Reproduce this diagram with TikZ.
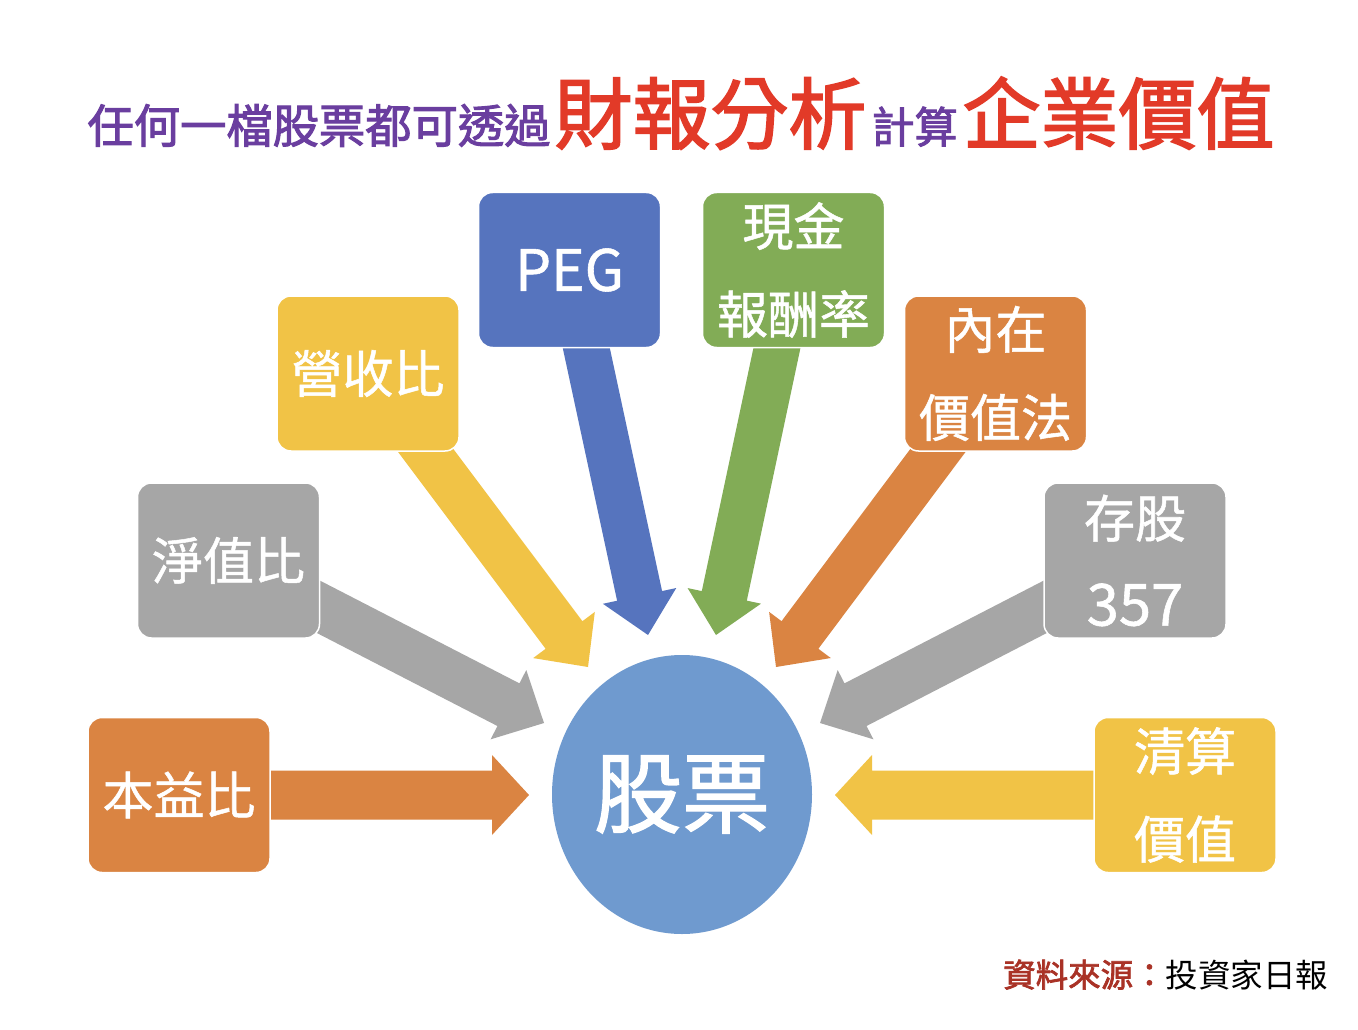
\documentclass[tikz,border=0pt]{standalone}
\usepackage{fontspec}
\setmainfont{Noto Sans CJK TC}
\newfontfamily\titlefont{Noto Sans CJK TC}[FakeBold=2.2]
\newfontfamily\boxfont{Noto Sans CJK TC}[FakeBold=1]
\newfontfamily\bigfont{Noto Sans CJK TC}[FakeBold=1.5]
\usetikzlibrary{calc,shapes.geometric}
\pgfdeclarelayer{back}
\pgfdeclarelayer{bg}
\pgfsetlayers{back,bg,main}
\definecolor{cOrange}{HTML}{DA8442}
\definecolor{cGray}{HTML}{A6A6A6}
\definecolor{cYellow}{HTML}{F1C346}
\definecolor{cBlue}{HTML}{5674BE}
\definecolor{cGreen}{HTML}{82AC56}
\definecolor{cCircle}{HTML}{6F9ACF}
\definecolor{cPurple}{HTML}{6A3E9F}
\definecolor{cRed}{HTML}{E23A28}
\definecolor{cDarkRed}{HTML}{A93226}
% color, tail, tip, half shaft, half head, head length
\newcommand\blockarrow[6]{%
  \coordinate (ba) at ($(#3)!#6!(#2)$);
  \fill[#1] ($(#2)!#4!90:(#3)$) -- ($(ba)!#4!90:(#3)$) -- ($(ba)!#5!90:(#3)$) -- (#3)
     -- ($(ba)!#5!-90:(#3)$) -- ($(ba)!#4!-90:(#3)$) -- ($(#2)!#4!-90:(#3)$) -- cycle;
}
\begin{document}
\begin{tikzpicture}[x=1pt,y=-1pt,
  boxnode/.style={draw=white, line width=1.5pt, rounded corners=14pt,
    minimum width=182pt, minimum height=155pt, inner sep=0pt, text=white,
    font=\boxfont\fontsize{51}{88}\selectfont, align=center}]
\useasboundingbox (0,0) rectangle (1358,1030);
\begin{pgfonlayer}{back}
  \fill[white] (0,0) rectangle (1358,1030);
\end{pgfonlayer}

% title
\node[anchor=base, inner sep=0pt, font=\titlefont] (title) at (681,143) {%
  {\color{cPurple}\fontsize{46.3}{46}\selectfont 任何一檔股票都可透過}\hspace{4pt}%
  {\color{cRed}\fontsize{78}{78}\selectfont 財報分析}\hspace{5pt}%
  {\color{cPurple}\fontsize{43}{43}\selectfont 計算}\hspace{5pt}%
  {\color{cRed}\fontsize{78}{78}\selectfont 企業價值}};

% boxes
\node[boxnode, fill=cOrange] (b1) at (179,795) {本益比};
\node[boxnode, fill=cGray]   (b2) at (228.5,560.5) {淨值比};
\node[boxnode, fill=cYellow] (b3) at (368,373.5) {營收比};
\node[boxnode, fill=cBlue, font=\boxfont\fontsize{57}{57}\selectfont] (b4) at (569.5,270) {PEG};
\node[boxnode, fill=cGreen]  (b5) at (793.5,270) {現金\\報酬率};
\node[boxnode, fill=cOrange] (b6) at (995.5,373.5) {內在\\價值法};
\node[boxnode, fill=cGray]   (b7) at (1135,560.5) {存股\\{\fontsize{58}{88}\selectfont 357}};
\node[boxnode, fill=cYellow] (b8) at (1185,795) {清算\\價值};

% center
\node[ellipse, fill=cCircle, minimum width=260pt, minimum height=279pt, inner sep=0pt,
  text=white, font=\bigfont\fontsize{88}{88}\selectfont] (stock) at (682,794.5) {股票};

% arrow tips
\coordinate (t1) at (529,795);
\coordinate (t2) at (544,723);
\coordinate (t3) at (588,667);
\coordinate (t4) at (648,635);
\coordinate (t5) at (716,635);
\coordinate (t6) at (776,667);
\coordinate (t7) at (820,723);
\coordinate (t8) at (835,795);

\begin{pgfonlayer}{bg}
  \blockarrow{cOrange}{b1.center}{t1}{24.5pt}{40pt}{37pt}
  \blockarrow{cGray}{b2.center}{t2}{24pt}{39pt}{40pt}
  \blockarrow{cYellow}{b3.center}{t3}{23pt}{38.5pt}{40pt}
  \blockarrow{cBlue}{b4.center}{t4}{23pt}{37.5pt}{40pt}
  \blockarrow{cGreen}{b5.center}{t5}{23pt}{37.5pt}{40pt}
  \blockarrow{cOrange}{b6.center}{t6}{23pt}{38.5pt}{40pt}
  \blockarrow{cGray}{b7.center}{t7}{24pt}{39pt}{40pt}
  \blockarrow{cYellow}{b8.center}{t8}{24.5pt}{40pt}{37pt}
\end{pgfonlayer}

% source
\node[anchor=base west, inner sep=0pt, font=\fontsize{32.5}{33}\selectfont] (src) at (1003,987)
  {{\titlefont\color{cDarkRed}資料來源：}投資家日報};
\end{tikzpicture}
\end{document}
